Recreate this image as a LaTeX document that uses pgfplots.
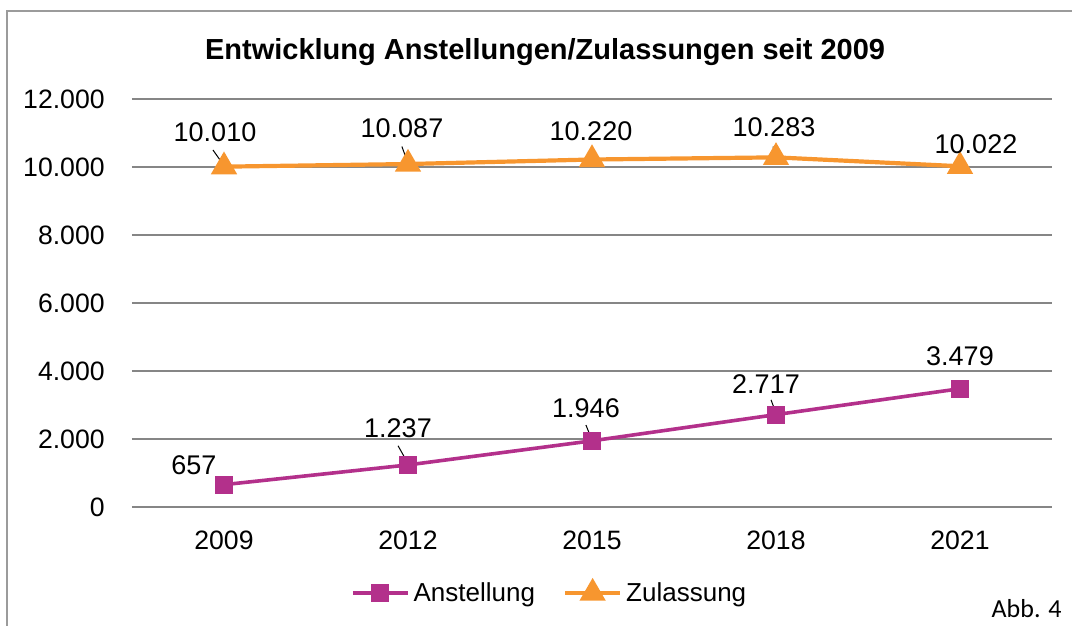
\documentclass[border=0pt]{standalone}
\usepackage{fontspec}
\setmainfont{Liberation Sans}
\newfontfamily\calibri{Carlito}
\usepackage{pgfplots}
\usepackage{pgfplotstable}
\pgfplotsset{compat=1.18}

\definecolor{anst}{RGB}{179,48,139}
\definecolor{zul}{RGB}{247,150,47}
\definecolor{gridgray}{RGB}{134,134,134}
\definecolor{framegray}{RGB}{155,155,155}

% x = category index (2009, 2012, ...), dx/dy = label offset in pt
\pgfplotstableread{
x y dx dy
0 657 -15 9.5
1 1237 -5 18.5
2 1946 -3 16.5
3 2717 -5 15.5
4 3479 0 16.5
}\anst
\pgfplotstableread{
x y dx dy
0 10010 -4.5 17
1 10087 -3 18
2 10220 -0.5 14
3 10283 -1 15
4 10022 8 11
}\zul

\pgfplotsset{
  labelled/.style={
    nodes near coords, point meta=explicit,
    visualization depends on={\thisrow{dx} \as \dx},
    visualization depends on={\thisrow{dy} \as \dy},
    nodes near coords style={black, anchor=center, inner sep=0pt,
        font=\fontsize{13.5}{16}\selectfont, xshift=\dx pt, yshift=\dy pt},
  },
}

\begin{document}
\begin{tikzpicture}
\useasboundingbox (0,0) rectangle (536pt,313pt);
\draw[framegray, line width=1pt] (3.5pt,-1pt) -- (3.5pt,307.5pt) -- (537pt,307.5pt);
\node[font=\calibri\fontsize{13}{15}\selectfont, anchor=base east, inner sep=0pt] at (531pt,4pt) {Abb. 4};

\begin{axis}[
    at={(66pt,59.5pt)}, anchor=south west,
    width=460pt, height=204pt, scale only axis,
    xmin=-0.5, xmax=4.5,
    ymin=0, ymax=12000,
    xtick={0,1,2,3,4},
    xticklabels={2009,2012,2015,2018,2021},
    ytick={0,2000,4000,6000,8000,10000,12000},
    scaled y ticks=false,
    /pgf/number format/.cd, fixed, precision=0, 1000 sep={.}, assume math mode=true,
    /pgfplots/.cd,
    axis line style={draw=none},
    major tick length=0pt,
    ymajorgrids,
    grid style={gridgray, line width=0.6pt},
    tick label style={font=\fontsize{13.3}{16}\selectfont, inner sep=0pt},
    yticklabel style={anchor=east, xshift=-13.5pt},
    xticklabel style={anchor=center, yshift=-16.5pt},
    title={Entwicklung Anstellungen/Zulassungen seit 2009},
    title style={font=\fontsize{14.5}{17}\selectfont\bfseries, at={(0.449,1.086)},
        anchor=center, yshift=0pt, inner sep=0pt},
    clip=false,
    legend columns=2,
    legend style={
        draw=none, fill=none,
        at={(0.455,-0.211)}, anchor=center,
        font=\fontsize{13}{15}\selectfont,
        /tikz/every even column/.append style={column sep=12pt},
    },
    legend image code/.code={
        \draw[mark repeat=2, mark phase=2, #1]
            plot coordinates {(0pt,0pt) (13.75pt,0pt) (27.5pt,0pt)};
    },
]

\addplot[anst, line width=1.8pt, mark=square*, mark size=3.6pt, labelled]
    table[x=x, y=y, meta=y] \anst;
\addlegendentry{Anstellung}

\addplot[zul, line width=2.1pt, mark=triangle*, mark size=5.5pt, labelled]
    table[x=x, y=y, meta=y] \zul;
\addlegendentry{Zulassung}

% leader lines of the data labels
\addplot[black, line width=0.5pt, forget plot] coordinates {(-0.06,10500) (0,10040)};
\addplot[black, line width=0.5pt, forget plot] coordinates {(0.967,10600) (1,10110)};
\addplot[black, line width=0.5pt, forget plot] coordinates {(2.984,10600) (3,10300)};
\addplot[black, line width=0.5pt, forget plot] coordinates {(0.946,1800) (1,1280)};
\addplot[black, line width=0.5pt, forget plot] coordinates {(1.967,2410) (2,1970)};
\addplot[black, line width=0.5pt, forget plot] coordinates {(2.973,3150) (3,2760)};

\end{axis}
\end{tikzpicture}
\end{document}
